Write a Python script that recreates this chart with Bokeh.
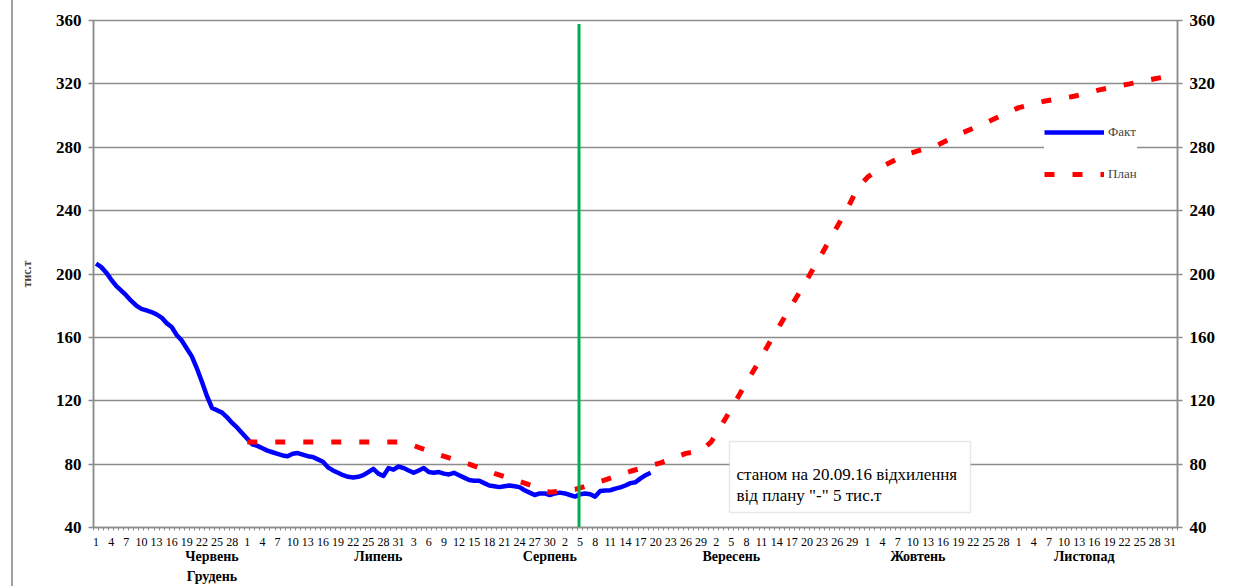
from bokeh.plotting import figure
from bokeh.models import (FixedTicker, LinearAxis, Range1d, Legend, LegendItem,
                          Label, BoxAnnotation, InlineStyleSheet)
from bokeh.embed import file_html
from bokeh.resources import INLINE

# ---------------- data ----------------
month_names = ["Червень", "Липень", "Серпень", "Вересень", "Жовтень", "Листопад", "Грудень"]
month_lengths = [30, 31, 31, 30, 31, 30, 31]

# Fact, daily from 1 June (day index 0)
fact_values = [
    206.5, 204.5, 201, 196.5, 192.5, 189.5, 186.5, 183, 180, 178,
    177, 176, 174.5, 172.5, 169, 166.5, 161.5, 158, 153, 148,
    140.5, 132, 123, 115.5, 114, 112.5, 109.5, 106, 103, 99.5,
    96, 92.5, 91.5, 90, 88.5, 87.5, 86.5, 85.5, 85, 86.5,
    87, 86, 85, 84.5, 83, 81.5, 78, 76, 74.5, 73,
    72, 71.5, 72, 73, 75, 77, 74, 72.5, 77.5, 76.5,
    78.5, 77.5, 76, 74.5, 76, 77.5, 75, 74.5, 75, 74,
    73.5, 74.5, 73, 71.5, 70, 69.5, 69.5, 68, 66.5, 66,
    65.5, 66, 66.5, 66, 65.5, 63.5, 62, 60.5, 61.5, 61.5,
    60.5, 61.5, 62, 61.5, 60.5, 59.5, 61, 61.5, 61, 59.5,
    63, 63.3, 63.5, 64.5, 65.3, 66.5, 68, 68.5, 71, 73,
    74.5,
]
fact_days = list(range(len(fact_values)))

# Plan, read at selected days (day index from 1 June)
plan_days = [30, 60, 63, 68, 74, 79, 85, 90, 95, 101, 106, 112, 117, 120, 122, 125,
             128, 131, 134, 137, 140, 143, 146, 149, 151, 153, 156, 161, 167, 172,
             177, 183, 188, 194, 199, 205, 210, 213]
plan_values = [94, 94, 91.7, 86, 80, 74.2, 68, 62.2, 64, 70, 75.5, 80.8, 86.8, 88.5, 94, 109.6,
               126, 142.2, 159, 175, 191, 207.4, 224.3, 241, 254, 261, 268, 275.8, 281.5, 289.3,
               296.2, 305, 309, 312.2, 316.2, 320, 323.2, 325]

y_ticks = [40, 80, 120, 160, 200, 240, 280, 320, 360]
report_day = 95.8          # vertical "today" marker
note_lines = ["станом на 20.09.16 відхилення", 'від плану "-" 5  тис.т']
series_names = ["Факт", "План"]

# ---------------- derived tick labels ----------------
day_of_month = []
for n in month_lengths:
    day_of_month += list(range(1, n + 1))
label_idx = list(range(0, len(day_of_month), 3))
overrides = {i: str(day_of_month[i]) for i in label_idx}
n_cat = len(day_of_month) + 1
minor = [i - 0.5 for i in range(n_cat + 1)]

FONT = "Liberation Serif"
GRAY = "#8c8c8c"

p = figure(width=1229, height=586, x_range=Range1d(-0.5, n_cat - 0.5),
           y_range=Range1d(40, 360), output_backend="svg", toolbar_location=None,
           min_border_left=93, min_border_right=52, min_border_top=20,
           min_border_bottom=59, outline_line_color=GRAY, outline_line_width=1.5,
           background_fill_color="white", border_fill_color="white")

# outer chart border at the left edge
p.stylesheets.append(InlineStyleSheet(css=(
    ":host::after { content: ''; position: absolute; left: 11px; top: 0px; "
    "width: 1.5px; height: 100%; background: #a0a0a0; z-index: 100; "
    "pointer-events: none; }")))

# x axis (days)
xa = p.xaxis[0]
xa.ticker = FixedTicker(ticks=label_idx, minor_ticks=minor)
xa.major_label_overrides = overrides
xa.major_tick_line_color = None
xa.major_tick_out = 3
xa.major_tick_in = 0
xa.minor_tick_out = 3
xa.minor_tick_in = 0
xa.minor_tick_line_color = GRAY
xa.axis_line_color = GRAY
xa.axis_line_width = 1.5
xa.major_label_standoff = 7
xa.major_label_text_font = FONT
xa.major_label_text_font_size = "12px"
xa.major_label_text_color = "black"

# month label rows
month_pos = [23, 56, 90, 126, 163, 196]
month_axis = LinearAxis(ticker=FixedTicker(ticks=month_pos),
                        major_label_overrides={m: n for m, n in zip(month_pos, month_names[:6])})
row2_pos = [23]
month_axis2 = LinearAxis(ticker=FixedTicker(ticks=row2_pos),
                         major_label_overrides={row2_pos[0]: month_names[6]})
for ax, so in ((month_axis, 0), (month_axis2, 2)):
    ax.axis_line_color = None
    ax.major_tick_line_color = None
    ax.minor_tick_line_color = None
    ax.major_tick_out = 0
    ax.major_tick_in = 0
    ax.major_label_standoff = so
    ax.major_label_text_font = FONT
    ax.major_label_text_font_style = "bold"
    ax.major_label_text_font_size = "14px"
    ax.major_label_text_color = "black"
    p.add_layout(ax, "below")

# left y axis
ya = p.yaxis[0]
ya.ticker = FixedTicker(ticks=y_ticks)
ya.minor_tick_line_color = None
ya.major_tick_out = 5
ya.major_tick_in = 0
ya.major_tick_line_color = GRAY
ya.major_tick_line_width = 1.5
ya.axis_line_color = GRAY
ya.axis_line_width = 1.5
ya.major_label_standoff = 7
ya.major_label_text_font = FONT
ya.major_label_text_font_style = "bold"
ya.major_label_text_font_size = "17px"
ya.major_label_text_color = "black"
ya.axis_label = "тис.т"
ya.axis_label_text_font = FONT
ya.axis_label_text_font_style = "bold"
ya.axis_label_text_font_size = "12px"
ya.axis_label_standoff = 19

# right y axis
ra = LinearAxis(ticker=FixedTicker(ticks=y_ticks))
ra.minor_tick_line_color = None
ra.major_tick_out = 5
ra.major_tick_in = 0
ra.major_tick_line_color = GRAY
ra.major_tick_line_width = 1.5
ra.axis_line_color = GRAY
ra.axis_line_width = 1.5
ra.major_label_standoff = 7
ra.major_label_text_font = FONT
ra.major_label_text_font_style = "bold"
ra.major_label_text_font_size = "17px"
ra.major_label_text_color = "black"
p.add_layout(ra, "right")

p.xgrid.visible = False
p.ygrid.ticker = FixedTicker(ticks=y_ticks)
p.ygrid.grid_line_color = GRAY
p.ygrid.grid_line_width = 1.5

# series
r_fact = p.line(fact_days, fact_values, line_color="#0000FF", line_width=4.5,
                line_join="round")
r_plan = p.line(plan_days, plan_values, line_color="#FF0000", line_width=5,
                line_dash="10 18")

# report-date marker
p.segment(x0=[report_day], y0=[39], x1=[report_day], y1=[357.8],
          line_color="#00B050", line_width=3)

legend = Legend(items=[LegendItem(label=series_names[0], renderers=[r_fact]),
                       LegendItem(label=series_names[1], renderers=[r_plan])],
                location=(951, 343), glyph_width=60, glyph_height=20, label_height=20,
                spacing=22, padding=8, margin=0, border_line_color=None,
                background_fill_color="white", background_fill_alpha=1.0,
                label_text_font=FONT, label_text_font_size="13px", label_standoff=4)
p.add_layout(legend)

# note box
p.add_layout(BoxAnnotation(left=636, right=877, bottom=15, top=86,
                           left_units="screen", right_units="screen",
                           bottom_units="screen", top_units="screen",
                           fill_color="white", fill_alpha=1.0,
                           line_color="#b4b4b4", line_width=1.5))
for txt, yy in zip(note_lines, [53, 32]):
    p.add_layout(Label(x=643, y=yy, x_units="screen", y_units="screen", text=txt,
                       text_font=FONT, text_font_size="17px", text_color="black",
                       text_baseline="alphabetic"))

open("out.html", "w").write(file_html(p, INLINE))
